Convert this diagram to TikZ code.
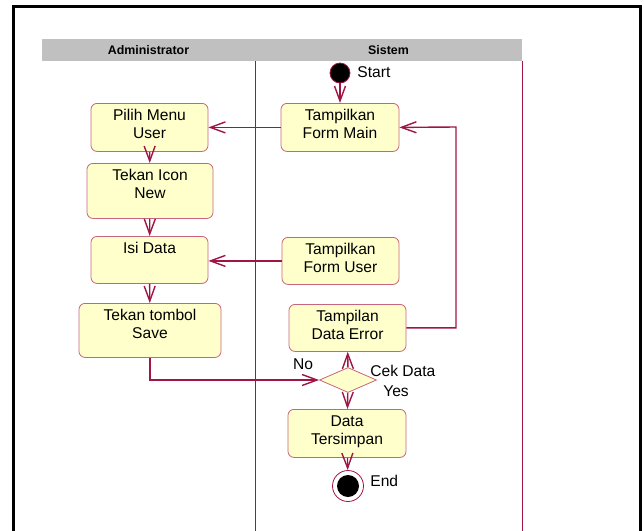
\documentclass[tikz,border=0pt]{standalone}
\usepackage{fontspec}
\setmainfont{Liberation Sans}
\usetikzlibrary{arrows.meta}
\usetikzlibrary{shapes.geometric}
\definecolor{rosefill}{RGB}{255,255,204}
\definecolor{roseline}{RGB}{200,100,125}
\definecolor{roseflow}{RGB}{160,20,70}
\definecolor{lanegray}{RGB}{192,192,192}

\begin{document}
\begin{tikzpicture}[x=0.5pt, y=-0.5pt, font=\fontsize{7.8}{9}\selectfont,
	flow/.style={draw=roseflow, line width=0.7pt, -{Straight Barb[length=7.5pt,width=5.5pt]}},
	act/.style={draw=roseline, fill=rosefill, rounded corners=3pt, anchor=north, align=center,
		inner xsep=0pt, inner ysep=2pt, text height=15.5pt, text depth=#1},
	lane/.style={fill=lanegray, inner sep=0pt, minimum height=11pt, font=\fontsize{6.2}{7}\selectfont\bfseries},
	tag/.style={inner sep=1pt}]
	\useasboundingbox (0,0) rectangle (644,531);
	\begin{scope}
		\clip (0,0) rectangle (644,531);
		\draw[line width=1.5pt] (13,6.5) rectangle (640,560);
		\draw[roseflow, line width=0.5pt] (255,61) -- (255,540) (522,61) -- (522,540);
	\end{scope}
	\node[lane, minimum width=106.5pt] (admin) at (148.5,50) {Administrator};
	\node[lane, minimum width=133.5pt] (sistem) at (388.5,50) {Sistem};

	\node[circle, fill=black, draw=roseflow, minimum size=10pt, inner sep=0pt] (start) at (340,73) {};
	\node[tag, anchor=west] (starttag) at (355,72) {Start};

	\node[act=4.5pt, minimum width=59pt] (formmain) at (340,103) {Tampilkan\\Form Main};
	\node[act=4.5pt, minimum width=58.5pt] (pilih) at (149.5,103) {Pilih Menu\\User};
	\node[act=8pt, minimum width=63pt] (icon) at (150,163) {Tekan Icon\\New};
	\node[act=13pt, text height=6.5pt, minimum width=58.5pt] (isi) at (149.5,236) {Isi Data};
	\node[act=7.5pt, minimum width=71pt] (save) at (150,303) {Tekan tombol\\Save};
	\node[act=4pt, minimum width=58.5pt] (formuser) at (340.5,237) {Tampilkan\\Form User};
	\node[act=4pt, minimum width=58.5pt] (error) at (347.5,304) {Tampilan\\Data Error};
	\node[diamond, draw=roseline, fill=rosefill, minimum width=28.5pt, minimum height=12.5pt, inner sep=0pt] (cek) at (348,380) {};
	\node[act=4.5pt, minimum width=59pt] (tersimpan) at (347,409) {Data\\Tersimpan};
	\node[circle, draw=roseflow, fill=white, minimum size=15.5pt, inner sep=0pt] (endring) at (348,486) {};
	\node[circle, fill=black, minimum size=11pt, inner sep=0pt] (enddot) at (endring) {};

	\node[tag] (notag) at (303,364) {No};
	\node[tag, anchor=west] (cektag) at (368,371) {Cek Data};
	\node[tag] (yestag) at (396,391) {Yes};
	\node[tag, anchor=west] (endtag) at (368,481) {End};

	\draw[flow] (start) -- (formmain);
	\draw[flow] (formmain.west) -- (pilih.east);
	\draw[flow] (pilih) -- (icon);
	\draw[flow] (icon) -- (isi);
	\draw[flow] (isi) -- (save);
	\draw[flow] (formuser.west) -- (formuser.west -| isi.east);
	\coordinate (back) at (456,127);
	\draw[flow] (error.east) -| (back) -- (formmain.east);
	\draw[flow] (save.south) |- (cek.west);
	\draw[flow] (cek) -- (error);
	\draw[flow] (cek) -- (tersimpan);
	\draw[flow] (tersimpan) -- (endring);
\end{tikzpicture}
\end{document}
